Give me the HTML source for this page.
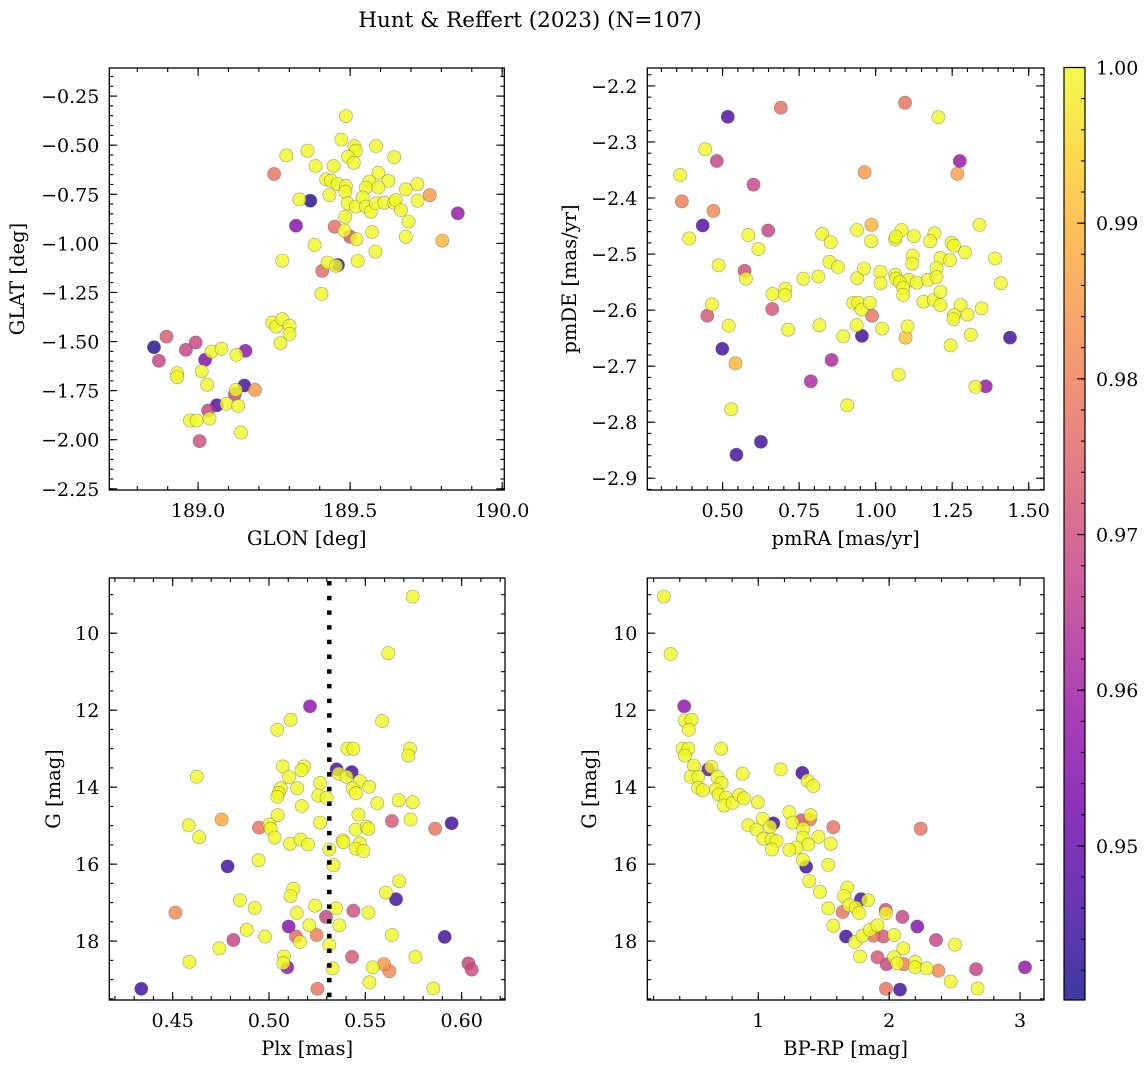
<!DOCTYPE html>
<html><head><meta charset="utf-8"><style>
body{margin:0;background:#fff;}
svg{display:block;font-family:"DejaVu Serif","Liberation Serif",serif;}
</style></head><body>
<svg id="fig" width="1148" height="1067" viewBox="0 0 1148 1067" xmlns="http://www.w3.org/2000/svg">
<defs><linearGradient id="cbgrad" x1="0" y1="1" x2="0" y2="0"></linearGradient></defs>
<text x="530" y="27" font-size="21.5" text-anchor="middle">Hunt &amp; Reffert (2023) (N=107)</text>
</svg>
<script>
// Panel A: GLON vs GLAT
const glonA=[189.486,189.471,189.514,189.519,189.585,189.645,189.290,189.360,189.386,189.446,189.493,189.512,189.593,189.626,189.721,189.683,189.563,189.552,189.593,189.421,189.437,189.459,189.486,189.484,189.333,189.432,189.492,189.519,189.541,189.552,189.568,189.585,189.612,189.645,189.650,189.667,189.722,189.692,189.683,189.572,189.521,189.484,189.481,189.383,189.277,189.426,189.454,189.525,189.583,189.406,
189.803,189.762,189.854,189.250,189.369,189.322,189.449,189.500,189.460,189.408,
189.244,189.257,189.277,189.301,189.301,189.271,
188.855,188.896,188.960,188.992,188.871,189.023,189.156,189.044,189.077,189.126,188.931,188.931,189.012,189.030,189.124,189.121,189.152,189.187,189.062,189.093,189.132,189.033,188.973,188.995,189.038,189.141,189.005];
const glatA=[-0.352,-0.471,-0.505,-0.528,-0.504,-0.562,-0.552,-0.528,-0.606,-0.606,-0.559,-0.589,-0.640,-0.682,-0.698,-0.725,-0.686,-0.716,-0.715,-0.674,-0.681,-0.698,-0.708,-0.737,-0.776,-0.754,-0.796,-0.813,-0.766,-0.813,-0.839,-0.796,-0.793,-0.793,-0.779,-0.830,-0.783,-0.889,-0.966,-0.942,-0.979,-0.864,-0.935,-1.008,-1.088,-1.098,-1.115,-1.090,-1.042,-1.257,
-0.986,-0.754,-0.847,-0.647,-0.783,-0.910,-0.915,-0.966,-1.110,-1.140,
-1.403,-1.424,-1.386,-1.420,-1.461,-1.508,
-1.529,-1.475,-1.542,-1.505,-1.598,-1.593,-1.547,-1.551,-1.537,-1.568,-1.661,-1.681,-1.651,-1.720,-1.746,-1.768,-1.724,-1.746,-1.824,-1.817,-1.827,-1.851,-1.902,-1.902,-1.892,-1.963,-2.007];
const probA=[1,1,1,1,1,1,1,1,1,1,1,1,1,1,1,1,1,1,1,1,1,1,1,1,1,1,1,1,1,1,1,1,1,1,1,1,1,1,1,1,1,1,1,1,1,1,1,1,1,1,
0.99,0.985,0.958,0.978,0.942,0.955,0.977,0.972,0.943,0.976,
1,1,1,1,1,1,
0.942,0.973,0.968,0.968,0.968,0.955,0.957,1,1,1,1,1,1,1,1,0.968,0.945,0.985,0.948,1,1,0.968,1,1,1,1,0.97];

// Panel B: pmRA vs pmDE
const pmraB=[0.517,0.690,1.096,1.205,0.443,0.481,0.361,0.601,0.964,1.275,1.267,0.367,0.470,0.435,0.391,0.649,0.584,0.617,0.487,0.572,0.576,0.663,0.705,0.704,0.465,0.450,0.662,0.520,0.714,0.499,0.542,0.528,0.545,0.625,0.788,0.856,0.907,0.955,1.075,1.439,1.360,1.326,1.098,0.988,0.986,1.339,
0.825,0.853,0.939,0.985,0.849,0.877,0.813,0.764,0.927,0.943,0.954,0.981,0.940,0.962,1.016,1.016,1.064,1.066,1.064,1.085,1.066,1.125,1.121,1.119,1.108,1.079,1.090,1.090,1.134,1.171,1.156,1.190,1.212,1.212,1.192,1.178,1.212,1.199,1.199,1.243,1.248,1.256,1.292,1.390,1.409,1.278,1.256,1.254,1.300,1.346,1.311,1.245,1.104,1.021,0.938,0.894,0.816];
const pmdeB=[-2.255,-2.239,-2.230,-2.256,-2.313,-2.334,-2.359,-2.376,-2.354,-2.334,-2.357,-2.406,-2.423,-2.449,-2.472,-2.458,-2.466,-2.491,-2.520,-2.530,-2.544,-2.571,-2.562,-2.573,-2.590,-2.610,-2.598,-2.628,-2.635,-2.669,-2.695,-2.777,-2.858,-2.835,-2.727,-2.689,-2.770,-2.646,-2.715,-2.649,-2.736,-2.737,-2.649,-2.610,-2.448,-2.448,
-2.464,-2.479,-2.457,-2.477,-2.514,-2.523,-2.540,-2.544,-2.587,-2.587,-2.599,-2.587,-2.543,-2.526,-2.532,-2.552,-2.537,-2.544,-2.474,-2.457,-2.469,-2.468,-2.503,-2.517,-2.546,-2.550,-2.560,-2.573,-2.551,-2.546,-2.585,-2.582,-2.591,-2.567,-2.463,-2.477,-2.507,-2.525,-2.541,-2.511,-2.480,-2.485,-2.497,-2.508,-2.552,-2.591,-2.609,-2.616,-2.608,-2.597,-2.644,-2.663,-2.629,-2.633,-2.627,-2.647,-2.627];
const probB=[0.947,0.977,0.978,1,1,0.968,1,0.968,0.985,0.958,0.986,0.98,0.982,0.948,1,0.968,1,1,1,0.97,1,1,1,1,1,0.972,0.972,1,1,0.945,0.99,1,0.945,0.945,0.962,0.962,1,0.945,1,0.945,0.958,1,0.992,0.978,0.99,1,
1,1,1,1,1,1,1,1,1,1,1,1,1,1,1,1,1,1,1,1,1,1,1,1,1,1,1,1,1,1,1,1,1,1,1,1,1,1,1,1,1,1,1,1,1,1,1,1,1,1,1,1,1,1,1,1,1];

// Panel C: Plx vs G
const plxMean=0.5313;
const plxC=[0.5746,0.5619,0.5213,0.5112,0.5043,0.5587,0.5407,0.5438,0.5732,0.5723,0.5351,0.5429,0.5071,0.5182,0.5168,0.5104,0.5362,0.5403,0.5265,0.5472,0.5520,0.5434,0.5451,0.5061,0.5050,0.5043,0.5147,0.5256,0.5299,0.5562,0.5673,0.5746,0.5170,0.4625,0.5464,0.5045,0.5265,0.5735,0.5638,0.5948,0.5862,0.4754,0.4583,0.4637,0.4948,0.5002,0.5009,0.5029,0.5109,0.5164,0.5202,0.5450,0.5507,0.5516,0.5382,0.5386,0.5472,0.5451,0.5490,0.5313,0.5334,0.4946,0.4785,0.5676,0.5607,0.5659,0.5126,0.5112,0.4849,0.4926,0.5239,0.5348,0.5438,0.5516,0.5144,0.5296,0.4514,0.5102,0.5209,0.5365,0.4884,0.4815,0.4979,0.5140,0.5161,0.5247,0.5638,0.5912,0.4742,0.4587,0.5078,0.5074,0.5095,0.5313,0.5330,0.5431,0.5538,0.5597,0.5625,0.5760,0.6035,0.6052,0.5521,0.5853,0.5251,0.4337];
const gmagC=[9.05,10.52,11.90,12.25,12.51,12.28,13.00,13.00,13.00,13.18,13.54,13.61,13.46,13.46,13.56,13.74,13.65,13.73,13.89,13.84,13.99,14.03,14.16,14.03,14.15,14.25,14.03,14.22,14.28,14.42,14.34,14.39,14.49,13.73,14.71,14.73,14.92,14.84,14.88,14.94,15.08,14.84,14.99,15.30,15.05,14.97,15.08,15.31,15.47,15.36,15.49,15.10,15.03,15.08,15.38,15.43,15.46,15.60,15.66,15.62,16.03,15.90,16.06,16.44,16.74,16.91,16.64,16.83,16.94,17.14,17.08,17.15,17.21,17.26,17.27,17.37,17.26,17.62,17.59,17.59,17.71,17.97,17.88,17.88,18.02,17.84,17.84,17.89,18.19,18.54,18.40,18.57,18.68,18.10,18.71,18.41,18.68,18.60,18.78,18.41,18.58,18.74,19.07,19.23,19.24,19.24];
const probC=[1,1,0.957,1,1,1,1,1,1,1,0.945,0.945,1,1,1,1,1,1,1,1,1,1,1,1,1,1,1,1,1,1,1,1,1,1,1,1,1,1,0.972,0.945,0.978,0.988,1,1,0.978,1,1,1,1,1,1,1,1,1,1,1,1,1,1,1,1,1,0.945,1,1,0.945,1,1,1,1,1,1,0.97,1,1,0.968,0.982,0.955,1,1,1,0.968,1,0.976,1,0.98,1,0.945,1,1,1,1,0.958,1,1,0.972,1,0.985,0.982,1,0.968,0.97,1,1,0.978,0.945];

// Panel D: BP-RP vs G
const bprpD=[0.279,0.330,0.434,0.439,0.490,0.470,0.422,0.465,0.439,0.717,0.508,0.618,0.641,0.483,0.541,0.687,0.720,0.541,0.575,0.676,0.697,0.753,0.738,0.804,0.855,0.891,0.880,0.997,1.171,1.336,1.377,1.420,0.924,0.987,1.033,1.115,1.090,1.038,1.102,1.140,1.104,1.237,1.262,1.331,1.395,1.400,1.344,1.341,1.382,1.459,1.293,1.237,1.573,1.553,2.241,1.341,1.366,1.535,1.390,1.471,1.680,1.655,1.785,1.838,1.694,1.745,1.771,1.535,1.645,1.973,1.976,2.101,2.215,1.573,1.670,1.739,1.797,1.853,1.910,1.879,1.955,2.037,2.358,2.503,2.108,1.777,1.910,1.981,2.037,2.062,2.113,2.200,2.197,2.287,2.376,2.470,2.664,2.676,3.038,1.976,2.083];
const gmagD=[9.05,10.54,11.90,12.27,12.25,12.51,13.00,13.00,13.18,13.00,13.44,13.54,13.47,13.73,13.73,13.73,13.89,14.02,14.08,14.06,14.19,14.27,14.48,14.41,14.20,14.29,13.65,14.39,13.54,13.63,13.83,13.97,14.99,15.10,14.82,14.94,15.03,15.34,15.36,15.40,15.62,14.65,14.92,14.86,14.84,14.73,15.08,15.31,15.49,15.29,15.57,15.63,15.04,15.47,15.08,15.89,16.07,16.02,16.44,16.72,16.61,16.83,16.91,16.94,17.07,17.13,17.27,17.15,17.24,17.19,17.27,17.37,17.62,17.60,17.88,18.02,17.86,17.71,17.59,17.86,17.88,17.84,17.97,18.09,18.19,18.40,18.42,18.60,18.42,18.58,18.60,18.54,18.68,18.71,18.77,19.05,18.73,19.23,18.68,19.24,19.26];
const probD=[1,1,0.957,1,1,1,1,1,1,1,1,0.95,1,1,1,1,1,1,1,1,1,1,1,1,1,1,1,1,1,0.945,1,1,1,1,1,0.945,1,1,1,1,1,1,1,0.972,0.98,1,1,1,1,1,1,1,0.978,1,0.978,1,0.945,1,1,1,1,1,0.945,1,1,1,1,1,0.978,0.97,1,0.968,0.955,1,0.945,1,1,1,1,0.978,0.972,1,0.968,1,1,1,0.972,0.968,1,1,0.98,1,1,1,0.982,1,0.968,1,0.958,0.978,0.945];

// Colorbar
const cbMin=0.9401, cbMax=1.0;
const cbTicks=[0.95,0.96,0.97,0.98,0.99,1.00];

const NS="http://www.w3.org/2000/svg";
const svg=document.getElementById('fig');
const TICKFS=19, LABFS=19.5;
function el(tag,attrs,parent){const e=document.createElementNS(NS,tag);for(const k in attrs)e.setAttribute(k,attrs[k]);(parent||svg).appendChild(e);return e;}
const plasma=[[0,[13,8,135]],[0.1,[65,4,157]],[0.2,[106,0,168]],[0.3,[143,13,164]],[0.4,[177,42,144]],[0.5,[204,71,120]],[0.6,[225,100,98]],[0.7,[242,132,75]],[0.8,[252,166,54]],[0.9,[252,206,37]],[1,[240,249,33]]];
function cmap(t){t=Math.max(0,Math.min(1,t));for(let i=1;i<plasma.length;i++){if(t<=plasma[i][0]){const a=plasma[i-1],b=plasma[i];const f=(t-a[0])/(b[0]-a[0]);const c=a[1].map((v,j)=>Math.round(v+(b[1][j]-v)*f));return `rgb(${c[0]},${c[1]},${c[2]})`;}}return 'rgb(240,249,33)';}
function norm(p){return (p-cbMin)/(cbMax-cbMin);}
function fmt(v,d){const s=Math.abs(v).toFixed(d);return (v<0?'\u2212':'')+s;}

function panel(cfg){
  const {name,x0,x1,y0,y1,xd,yd,xMaj,xMin,yMaj,yMin,xdec,ydec,xlabel,ylabel,ylabX,xs,ys,ps}=cfg;
  const sx=v=>x0+(v-xd[0])/(xd[1]-xd[0])*(x1-x0);
  const sy=v=>y0+(v-yd[0])/(yd[1]-yd[0])*(y1-y0);
  const g=el('g',{});
  
  
  const pts=el('g',{},g);
  
  
  const idx=xs.map((_,i)=>i).sort((a,b)=>ps[a]-ps[b]);
  for(const i of idx){
    const c=el('circle',{cx:sx(xs[i]).toFixed(1),cy:sy(ys[i]).toFixed(1),r:6.6,fill:cmap(norm(ps[i])),'fill-opacity':0.8,stroke:'#555','stroke-opacity':0.55,'stroke-width':0.6},pts);
    
    
  }
  if(cfg.extra) cfg.extra(g,sx,sy);
  const fr=el('rect',{x:x0,y:y0,width:x1-x0,height:y1-y0,fill:'none',stroke:'#000','stroke-width':1.3},g);
  
  
  const lo=Math.min(xd[0],xd[1]),hi=Math.max(xd[0],xd[1]);
  function ticksX(step,len){const s=Math.ceil(lo/step-1e-6);for(let k=s;k*step<=hi+1e-9;k++){const v=k*step;const x=sx(v);el('line',{x1:x,x2:x,y1:y1,y2:y1-len,stroke:'#000','stroke-width':1.1},g);el('line',{x1:x,x2:x,y1:y0,y2:y0+len,stroke:'#000','stroke-width':1.1},g);}}
  const ylo=Math.min(yd[0],yd[1]),yhi=Math.max(yd[0],yd[1]);
  function ticksY(step,len){const s=Math.ceil(ylo/step-1e-6);for(let k=s;k*step<=yhi+1e-9;k++){const v=k*step;const y=sy(v);el('line',{x1:x0,x2:x0+len,y1:y,y2:y,stroke:'#000','stroke-width':1.1},g);el('line',{x1:x1,x2:x1-len,y1:y,y2:y,stroke:'#000','stroke-width':1.1},g);}}
  ticksX(xMin,4);ticksX(xMaj,8);ticksY(yMin,4);ticksY(yMaj,8);
  {const s=Math.ceil(lo/xMaj-1e-6);for(let k=s;k*xMaj<=hi+1e-9;k++){const v=k*xMaj;const t=el('text',{x:sx(v),y:y1+27,'font-size':TICKFS,'text-anchor':'middle'},g);t.textContent=fmt(v,xdec);}}
  {const s=Math.ceil(ylo/yMaj-1e-6);for(let k=s;k*yMaj<=yhi+1e-9;k++){const v=k*yMaj;const t=el('text',{x:x0-10,y:sy(v)+7,'font-size':TICKFS,'text-anchor':'end'},g);t.textContent=fmt(v,ydec);}}
  const xl=el('text',{x:(x0+x1)/2,y:y1+55,'font-size':LABFS,'text-anchor':'middle'},g);xl.textContent=xlabel;
  
  
  const yc=(y0+y1)/2;
  const yl=el('text',{x:ylabX,y:yc,'font-size':LABFS,'text-anchor':'middle',transform:`rotate(-90 ${ylabX} ${yc})`},g);yl.textContent=ylabel;
  
  
}

panel({name:'glon-glat',x0:109.3,x1:504.3,y0:68,y1:490,xd:[188.708,190.007],yd:[-0.107,-2.256],xMaj:0.5,xMin:0.1,yMaj:0.25,yMin:0.05,xdec:1,ydec:2,xlabel:'GLON [deg]',ylabel:'GLAT [deg]',ylabX:24,xs:glonA,ys:glatA,ps:probA});
panel({name:'pm',x0:647.3,x1:1044,y0:68,y1:490,xd:[0.254,1.550],yd:[-2.168,-2.921],xMaj:0.25,xMin:0.05,yMaj:0.1,yMin:0.02,xdec:2,ydec:1,xlabel:'pmRA [mas/yr]',ylabel:'pmDE [mas/yr]',ylabX:576,xs:pmraB,ys:pmdeB,ps:probB});
panel({name:'plx-g',x0:109.3,x1:505,y0:578,y1:1000,xd:[0.4171,0.6225],yd:[8.566,19.53],xMaj:0.05,xMin:0.01,yMaj:2,yMin:0.5,xdec:2,ydec:0,xlabel:'Plx [mas]',ylabel:'G [mag]',ylabX:60,xs:plxC,ys:gmagC,ps:probC,
  extra:(g,sx,sy)=>{const x=sx(plxMean);const l=el('line',{x1:x,x2:x,y1:581,y2:1000,stroke:'#000','stroke-width':4.5,'stroke-dasharray':'4.5 10.2'},g);}});
panel({name:'cmd',x0:647.3,x1:1044,y0:578,y1:1000,xd:[0.152,3.183],yd:[8.566,19.53],xMaj:1,xMin:0.2,yMaj:2,yMin:0.5,xdec:0,ydec:0,xlabel:'BP-RP [mag]',ylabel:'G [mag]',ylabX:596,xs:bprpD,ys:gmagD,ps:probD});

// colorbar
const grad=document.getElementById('cbgrad');
for(let i=0;i<=20;i++){const t=i/20;el('stop',{offset:t,'stop-color':cmap(t),'stop-opacity':0.8},grad);}
const cb0=1064,cb1=1085,cby0=67.5,cby1=1000;
const cbs=v=>cby1-(v-cbMin)/(cbMax-cbMin)*(cby1-cby0);
const cbr=el('rect',{x:cb0,y:cby0,width:cb1-cb0,height:cby1-cby0,fill:'url(#cbgrad)',stroke:'#000','stroke-width':1.2});


for(let k=Math.ceil(cbMin/0.002);k*0.002<=cbMax+1e-9;k++){const y=cbs(k*0.002);el('line',{x1:cb1,x2:cb1-4,y1:y,y2:y,stroke:'#000','stroke-width':1.1});}
for(const v of cbTicks){const y=cbs(v);el('line',{x1:cb1,x2:cb1-8,y1:y,y2:y,stroke:'#000','stroke-width':1.1});const t=el('text',{x:1096,y:y+7,'font-size':TICKFS},svg);t.textContent=v.toFixed(2);

}
</script>
</body></html>
